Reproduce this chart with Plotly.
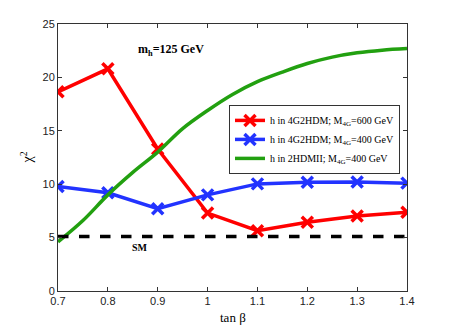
import plotly.graph_objects as go

tanb = [0.7, 0.8, 0.9, 1.0, 1.1, 1.2, 1.3, 1.4]
red_600 = [18.65, 20.8, 13.3, 7.3, 5.65, 6.44, 7.03, 7.38]
blue_400 = [9.78, 9.2, 7.7, 9.0, 10.03, 10.19, 10.2, 10.1]
green_x = [0.7, 0.75, 0.8, 0.85, 0.9, 0.95, 1.0, 1.05, 1.1, 1.15, 1.2, 1.25, 1.3, 1.35, 1.4]
green_2hdm = [4.6, 6.6, 9.0, 11.1, 13.0, 15.2, 16.9, 18.4, 19.6, 20.5, 21.3, 21.9, 22.3, 22.55, 22.7]
sm_value = 5.1
xtick_vals = [0.7, 0.8, 0.9, 1.0, 1.1, 1.2, 1.3, 1.4]
xtick_text = ["0.7", "0.8", "0.9", "1", "1.1", "1.2", "1.3", "1.4"]
ytick_vals = [0, 5, 10, 15, 20, 25]

serif = "Liberation Serif, Times New Roman, serif"
sans = "Liberation Sans, Arial, sans-serif"

fig = go.Figure()
fig.add_trace(go.Scatter(
    x=tanb, y=red_600, mode="lines+markers",
    name="h in 4G2HDM; M<sub>4G</sub>=600 GeV",
    line=dict(color="#ff0000", width=3.5),
    marker=dict(symbol="x-thin", size=11, line=dict(color="#ff0000", width=3.5)),
))
fig.add_trace(go.Scatter(
    x=tanb, y=blue_400, mode="lines+markers",
    name="h in 4G2HDM; M<sub>4G</sub>=400 GeV",
    line=dict(color="#2233ff", width=3.5),
    marker=dict(symbol="x-thin", size=11, line=dict(color="#2233ff", width=3.5)),
))
fig.add_trace(go.Scatter(
    x=green_x, y=green_2hdm, mode="lines",
    name="h in 2HDMII; M<sub>4G</sub>=400 GeV",
    line=dict(color="#22a010", width=3.5, shape="spline"),
))
fig.add_trace(go.Scatter(
    x=[tanb[0], tanb[-1]], y=[sm_value, sm_value], mode="lines",
    showlegend=False,
    line=dict(color="black", width=3.5, dash="dash"),
))

fig.add_annotation(x=0.864, y=4.1, text="<b>SM</b>", showarrow=False,
                   font=dict(family=serif, size=10, color="black"))
fig.add_annotation(x=0.926, y=22.6, text="<b>m<sub>h</sub>=125 GeV</b>", showarrow=False,
                   font=dict(family=serif, size=12, color="black"))
fig.add_annotation(xref="paper", yref="paper", x=0.5, y=-0.065, yanchor="top",
                   text="tan β", showarrow=False,
                   font=dict(family=serif, size=13, color="black"))
fig.add_annotation(xref="paper", yref="paper", x=-0.06, y=0.5, xanchor="right",
                   text="χ<sup>2</sup>", showarrow=False, textangle=-90,
                   font=dict(family=serif, size=14, color="black"))

fig.update_layout(
    width=450, height=327,
    margin=dict(l=50, r=51, t=16, b=44),
    paper_bgcolor="white", plot_bgcolor="white",
    showlegend=True,
    legend=dict(x=0.49, y=0.697, xanchor="left", yanchor="top",
                bgcolor="white", bordercolor="#333", borderwidth=1,
                font=dict(family=serif, size=10, color="black"),
                tracegroupgap=0, itemwidth=30),
    xaxis=dict(range=[0.7, 1.4], tickvals=xtick_vals, ticktext=xtick_text,
               ticks="inside", ticklen=4, tickcolor="#333", mirror="ticks",
               showline=True, linecolor="#333", linewidth=1, showgrid=False, zeroline=False,
               tickfont=dict(family=sans, size=11, color="#222"), automargin=False),
    yaxis=dict(range=[0, 25], tickvals=ytick_vals,
               ticks="inside", ticklen=4, tickcolor="#333", mirror="ticks",
               showline=True, linecolor="#333", linewidth=1, showgrid=False, zeroline=False,
               tickfont=dict(family=sans, size=11, color="#222"), automargin=False),
)

fig.write_html("out.html")
